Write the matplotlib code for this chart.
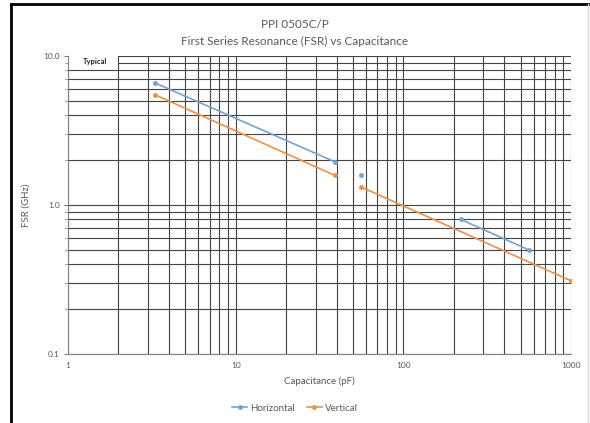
import matplotlib
matplotlib.use('Agg')
import matplotlib.pyplot as plt
from matplotlib.lines import Line2D
from matplotlib.patches import Rectangle
from matplotlib.ticker import FixedLocator, LogLocator, NullFormatter
import numpy as np

plt.rcParams['font.family'] = ['Lato', 'DejaVu Sans']

# chart data; NaN marks a break in the line
horiz_cap = [3.3, 39, np.nan, 56, np.nan, 220, 560]
horiz_fsr = [6.6, 1.95, np.nan, 1.6, np.nan, 0.8, 0.5]
vert_cap = [3.3, 39, np.nan, 56, 1000]
vert_fsr = [5.5, 1.58, np.nan, 1.32, 0.31]

x_ticks = [1, 10, 100, 1000]
x_ticklabels = ['1', '10', '100', '1000']
y_ticks = [0.1, 1.0, 10.0]
y_ticklabels = ['0.1', '1.0', '10.0']

title = 'PPI 0505C/P\nFirst Series Resonance (FSR) vs Capacitance'
gray = '#595959'
blue = '#72a4d2'
orange = '#ee9048'

fig = plt.figure(figsize=(5.9, 4.23), dpi=100)
ax = fig.add_axes([68 / 590, 1 - 354 / 423, (571 - 68) / 590, (354 - 56) / 423])

ax.plot(horiz_cap, horiz_fsr, color=blue, lw=1.2, marker='o', ms=2.5,
        label='Horizontal', zorder=3)
ax.plot(vert_cap, vert_fsr, color=orange, lw=1.2, marker='o', ms=2.5,
        label='Vertical', zorder=3)

ax.set_xscale('log')
ax.set_yscale('log')
ax.set_xlim(1, 1000)
ax.set_ylim(0.1, 10)

ax.xaxis.set_major_locator(FixedLocator(x_ticks))
ax.set_xticklabels(x_ticklabels)
ax.yaxis.set_major_locator(FixedLocator(y_ticks))
ax.set_yticklabels(y_ticklabels)
ax.xaxis.set_minor_locator(LogLocator(base=10, subs=np.arange(2, 10)))
ax.yaxis.set_minor_locator(LogLocator(base=10, subs=np.arange(2, 10)))
ax.xaxis.set_minor_formatter(NullFormatter())
ax.yaxis.set_minor_formatter(NullFormatter())

ax.grid(True, which='both', color='#444444', lw=0.8)
ax.set_axisbelow(True)
ax.tick_params(which='major', length=3, width=0.8, color='#808080',
               labelsize=6, labelcolor=gray, pad=3)
ax.tick_params(which='minor', length=2, width=0.6, color='#808080')
ax.tick_params(axis='x', which='both', length=0, pad=6)

for side in ['top', 'right']:
    ax.spines[side].set_visible(False)
for side in ['left', 'bottom']:
    ax.spines[side].set_color('#808080')
    ax.spines[side].set_linewidth(0.8)

ax.set_xlabel('Capacitance (pF)', fontsize=7, color=gray, labelpad=5)
ax.set_ylabel('FSR (GHz)', fontsize=7, color=gray, labelpad=9)
fig.text(0.5, 0.955, title, ha='center', va='top', fontsize=8.5,
         color=gray, linespacing=1.6)

# white "Typical" box in the top-left corner of the grid
ax.add_patch(Rectangle((1.005, 8.3), 0.99, 1.68, fc='white', ec='none',
                       zorder=2.5))
ax.text(1.45, 9.15, 'Typical', ha='center', va='center', fontsize=5.5,
        fontweight='bold', color='#222222', zorder=4)

handles = [Line2D([], [], color=blue, lw=1.2, marker='o', ms=2.5),
           Line2D([], [], color=orange, lw=1.2, marker='o', ms=2.5)]
fig.legend(handles, ['Horizontal', 'Vertical'], loc='center',
           bbox_to_anchor=(0.5, 1 - 408 / 423), ncol=2, frameon=False,
           fontsize=7, labelcolor=gray, handlelength=1.6, handletextpad=0.3,
           columnspacing=1.2)

# frame around the picture
fig.add_artist(Line2D([11 / 590, 11 / 590], [0, 1 - 4 / 423],
                      transform=fig.transFigure, color='black', lw=2))
fig.add_artist(Line2D([11 / 590, 1], [1 - 4 / 423, 1 - 4 / 423],
                      transform=fig.transFigure, color='black', lw=2))
fig.add_artist(Line2D([588 / 590, 588 / 590], [0, 1 - 4 / 423],
                      transform=fig.transFigure, color='#dddddd', lw=1))

fig.savefig('out.png', dpi=100)
